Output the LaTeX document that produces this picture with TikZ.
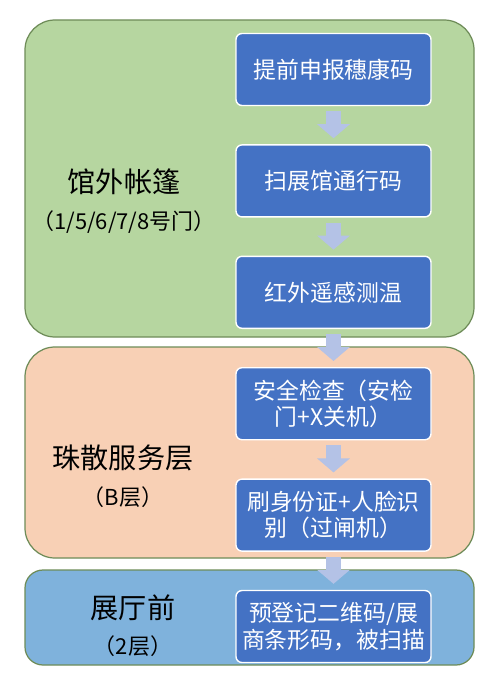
\documentclass[tikz,border=0pt]{standalone}
\usepackage{fontspec}
\setmainfont{Noto Sans CJK SC}
\usepackage{xcolor}
\usepackage{tikz}
\usetikzlibrary{arrows.meta, positioning}
\definecolor{tentgreen}{HTML}{B6D6A0}
\definecolor{floorpeach}{HTML}{F8D0B5}
\definecolor{hallblue}{HTML}{7FB2DC}
\definecolor{panelline}{HTML}{6E8C58}
\definecolor{stepblue}{HTML}{4472C4}
\definecolor{flowblue}{HTML}{B4C2E6}

\begin{document}
\begin{tikzpicture}[
  node distance=0.76cm,
  panel/.style={rectangle, rounded corners=0.6cm, draw=panelline, line width=0.7pt, minimum width=8.98cm},
  stepbox/.style={rectangle, rounded corners=0.12cm, draw=white, line width=0.8pt, fill=stepblue, text=white, minimum width=3.9cm, minimum height=1.44cm, font=\fontsize{13pt}{15pt}\selectfont, align=center, inner sep=2pt},
  title/.style={font=\fontsize{16pt}{19pt}\selectfont, inner sep=0pt},
  subtitle/.style={font=\fontsize{12.5pt}{14pt}\selectfont, inner sep=0pt},
  flow/.style={draw=flowblue, line width=0.3cm, -{Triangle[length=0.28cm, width=0.64cm]}, shorten <=0.1cm, shorten >=0.12cm}
]
  \useasboundingbox[fill=white] (0,0) rectangle (9.98,-13.72);

  % zones
  \node[panel, fill=tentgreen, minimum height=6.34cm] (tent) at (4.99,-3.57) {};
  \node[panel, fill=floorpeach, minimum height=4.22cm] (floorb) at (4.99,-9.05) {};
  \node[panel, fill=hallblue, rounded corners=0.36cm, minimum height=1.9cm] (hall) at (4.99,-12.35) {};

  % zone labels
  \node[title] (tentname) at (2.48,-3.64) {馆外帐篷};
  \node[subtitle, below=0.8cm of tentname.center, anchor=center] (tentgate) {（1/5/6/7/8号门）};
  \node[title] (floorname) at (2.46,-9.16) {珠散服务层};
  \node[subtitle, below=0.78cm of floorname.center, anchor=center] (floorlevel) {（B层）};
  \node[title] (hallname) at (2.66,-12.16) {展厅前};
  \node[subtitle, below=0.76cm of hallname.center, anchor=center] (halllevel) {（2层）};

  % steps
  \node[stepbox] (report) at (6.67,-1.39) {提前申报穗康码};
  \node[stepbox, below=of report] (scan) {扫展馆通行码};
  \node[stepbox, below=of scan] (temp) {红外遥感测温};
  \node[stepbox, below=of temp] (security) {安全检查（安检\\门+X关机）};
  \node[stepbox, below=of security] (idcheck) {刷身份证+人脸识\\别（过闸机）};
  \node[stepbox, below=of idcheck] (qrcode) {预登记二维码/展\\商条形码，被扫描};

  \draw[flow] (report.south) -- (scan.north);
  \draw[flow] (scan.south) -- (temp.north);
  \draw[flow] (temp.south) -- (security.north);
  \draw[flow] (security.south) -- (idcheck.north);
  \draw[flow] (idcheck.south) -- (qrcode.north);
\end{tikzpicture}
\end{document}
